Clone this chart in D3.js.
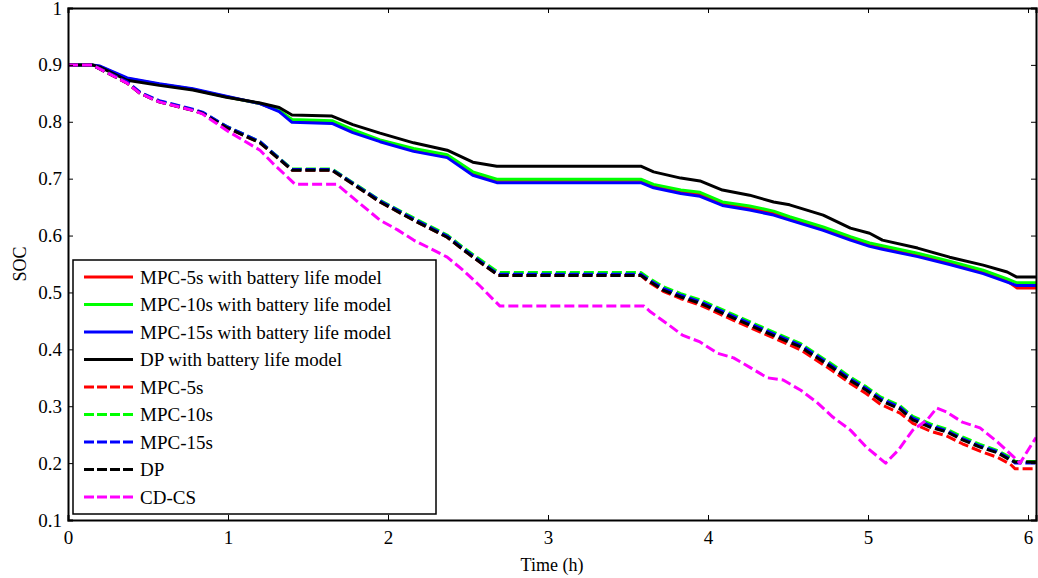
<!DOCTYPE html>
<html>
<head>
<meta charset="utf-8">
<script src="https://cdn.jsdelivr.net/npm/d3@7"></script>
<style>
  html, body { margin: 0; padding: 0; background: #fff; }
  svg { display: block; }
  text { font-family: "Liberation Serif", "Times New Roman", serif; fill: #000; }
</style>
</head>
<body>
<svg id="chart" width="1038" height="578"></svg>
<script>
// ---------------- data ----------------
const xTicks = [0, 1, 2, 3, 4, 5, 6];
const yTicks = [0.1, 0.2, 0.3, 0.4, 0.5, 0.6, 0.7, 0.8, 0.9, 1];
const yTickLabels = ["0.1", "0.2", "0.3", "0.4", "0.5", "0.6", "0.7", "0.8", "0.9", "1"];

// solid group (with battery life model)
const tLife = [0,0.15,0.2,0.37,0.57,0.78,0.99,1.2,1.32,1.4,1.65,1.78,1.95,2.16,2.37,2.53,2.68,3.58,3.66,3.83,3.95,4.09,4.26,4.41,4.51,4.72,4.89,5.01,5.09,5.31,5.51,5.72,5.87,5.93,6.05];
const mpc5Life  = [0.9,0.9,0.897,0.876,0.866,0.857,0.844,0.832,0.819,0.802,0.8,0.784,0.767,0.751,0.74,0.709,0.697,0.697,0.687,0.677,0.672,0.656,0.648,0.639,0.63,0.612,0.595,0.584,0.579,0.566,0.552,0.536,0.52,0.508,0.508];
const mpc10Life = [0.9,0.9,0.897,0.875,0.866,0.857,0.844,0.832,0.82,0.804,0.802,0.786,0.768,0.753,0.742,0.712,0.699,0.699,0.69,0.68,0.676,0.659,0.652,0.643,0.633,0.615,0.598,0.587,0.582,0.569,0.555,0.539,0.524,0.517,0.517];
const mpc15Life = [0.9,0.9,0.898,0.877,0.867,0.858,0.845,0.832,0.818,0.799,0.797,0.781,0.765,0.748,0.737,0.706,0.693,0.693,0.684,0.674,0.669,0.653,0.645,0.636,0.627,0.609,0.592,0.581,0.576,0.563,0.549,0.533,0.518,0.512,0.512];
const dpLife    = [0.9,0.9,0.896,0.873,0.864,0.856,0.843,0.833,0.825,0.812,0.81,0.795,0.78,0.763,0.75,0.729,0.722,0.722,0.712,0.701,0.696,0.68,0.671,0.659,0.654,0.636,0.613,0.604,0.592,0.578,0.562,0.548,0.536,0.527,0.527];

// dashed group (without battery life model)
const tBase = [0,0.15,0.37,0.45,0.57,0.78,0.84,0.99,1.2,1.4,1.65,1.95,2.16,2.37,2.47,2.58,2.69,3.58,3.62,3.72,3.83,3.95,4.16,4.37,4.58,4.78,4.89,4.99,5.08,5.2,5.28,5.39,5.49,5.59,5.7,5.81,5.89,5.92,6.05];
const mpc5  = [0.9,0.9,0.868,0.85,0.835,0.82,0.815,0.79,0.763,0.715,0.715,0.659,0.627,0.597,0.575,0.552,0.53,0.53,0.52,0.502,0.489,0.478,0.451,0.425,0.399,0.362,0.34,0.322,0.303,0.288,0.27,0.256,0.248,0.234,0.221,0.21,0.198,0.19,0.19];
const mpc10 = [0.9,0.9,0.869,0.851,0.836,0.821,0.816,0.792,0.765,0.717,0.717,0.662,0.631,0.601,0.579,0.557,0.535,0.535,0.527,0.51,0.498,0.487,0.461,0.435,0.41,0.373,0.351,0.334,0.316,0.301,0.282,0.269,0.26,0.246,0.233,0.222,0.21,0.203,0.203];
const mpc15 = [0.9,0.9,0.87,0.852,0.837,0.822,0.817,0.792,0.765,0.716,0.716,0.661,0.629,0.599,0.577,0.554,0.532,0.532,0.524,0.507,0.495,0.484,0.458,0.432,0.407,0.37,0.348,0.331,0.313,0.298,0.279,0.266,0.257,0.243,0.23,0.22,0.207,0.2,0.2];
const dp    = [0.9,0.9,0.868,0.85,0.835,0.82,0.815,0.79,0.763,0.715,0.715,0.659,0.627,0.597,0.575,0.552,0.53,0.53,0.522,0.504,0.492,0.481,0.455,0.429,0.404,0.367,0.345,0.328,0.31,0.295,0.276,0.263,0.255,0.241,0.228,0.218,0.205,0.202,0.202];

// CD-CS
const tCDCS = [0,0.15,0.37,0.45,0.57,0.78,0.84,0.99,1.2,1.28,1.39,1.42,1.68,1.95,2.06,2.16,2.26,2.37,2.47,2.58,2.66,2.7,3.6,3.64,3.74,3.84,3.95,4.06,4.16,4.27,4.37,4.47,4.58,4.68,4.78,4.89,4.99,5.11,5.19,5.28,5.37,5.43,5.49,5.59,5.7,5.81,5.91,5.95,6.05];
const cdcs  = [0.9,0.9,0.868,0.85,0.835,0.82,0.814,0.785,0.75,0.727,0.698,0.69,0.69,0.627,0.61,0.592,0.578,0.562,0.539,0.51,0.487,0.476,0.476,0.466,0.446,0.425,0.413,0.393,0.385,0.367,0.35,0.346,0.328,0.307,0.281,0.258,0.228,0.2,0.223,0.258,0.276,0.297,0.29,0.272,0.262,0.237,0.211,0.2,0.245];

const seriesNames = ["MPC-5s with battery life model","MPC-10s with battery life model","MPC-15s with battery life model","DP with battery life model","MPC-5s","MPC-10s","MPC-15s","DP","CD-CS"];
const seriesColors = ["#ff0000","#00ff00","#0000ff","#000000","#ff0000","#00ff00","#0000ff","#000000","#ff00ff"];
const seriesDashed = [false,false,false,false,true,true,true,true,true];
const seriesT = [tLife,tLife,tLife,tLife,tBase,tBase,tBase,tBase,tCDCS];
const seriesV = [mpc5Life,mpc10Life,mpc15Life,dpLife,mpc5,mpc10,mpc15,dp,cdcs];

// ---------------- layout ----------------
const L = 68, R = 1036, T = 8, B = 520;
const svg = d3.select("#chart");
const x = d3.scaleLinear().domain([0, 6.05]).range([L, R]);
const y = d3.scaleLinear().domain([0.1, 1]).range([B, T]);

svg.append("defs").append("clipPath").attr("id","clip")
  .append("rect").attr("x",L).attr("y",T).attr("width",R-L).attr("height",B-T);

const line = d3.line().x(d => x(d[0])).y(d => y(d[1]));
const gLines = svg.append("g").attr("clip-path","url(#clip)");
seriesNames.forEach((name, i) => {
  const pts = seriesT[i].map((t, k) => [t, seriesV[i][k]]);
  gLines.append("path")
    .datum(pts)
    .attr("d", line)
    .attr("fill","none")
    .attr("stroke", seriesColors[i])
    .attr("stroke-width", 3)
    .attr("stroke-linejoin","round")
    .attr("stroke-dasharray", seriesDashed[i] ? "10,4" : null);
});

// ---------------- axes ----------------
const fmtY = d => yTickLabels[yTicks.indexOf(d)];
const axB = svg.append("g").attr("transform",`translate(0,${B})`)
  .call(d3.axisBottom(x).tickValues(xTicks).tickSize(-5).tickPadding(11).tickFormat(d3.format("d")));
const axT = svg.append("g").attr("transform",`translate(0,${T})`)
  .call(d3.axisTop(x).tickValues(xTicks).tickSize(-5).tickFormat(""));
const axL = svg.append("g").attr("transform",`translate(${L},0)`)
  .call(d3.axisLeft(y).tickValues(yTicks).tickSize(-5).tickPadding(6).tickFormat(fmtY));
const axR = svg.append("g").attr("transform",`translate(${R},0)`)
  .call(d3.axisRight(y).tickValues(yTicks).tickSize(-5).tickFormat(""));
[axB, axT, axL, axR].forEach(g => {
  g.select(".domain").attr("stroke","#000").attr("stroke-width",2);
  g.selectAll(".tick line").attr("stroke","#000").attr("stroke-width",1);
  g.selectAll(".tick text").attr("font-size",19).attr("font-family","'Liberation Serif', serif").attr("fill","#000");
});

svg.append("text").attr("x",(L+R)/2).attr("y",571).attr("text-anchor","middle")
  .attr("font-size",18).text("Time (h)");
svg.append("text").attr("transform",`translate(26,${(T+B)/2}) rotate(-90)`).attr("text-anchor","middle")
  .attr("font-size",18).text("SOC");

// ---------------- legend ----------------
const lg = svg.append("g");
lg.append("rect").attr("x",73).attr("y",260).attr("width",363).attr("height",254)
  .attr("fill","#fff").attr("stroke","#000").attr("stroke-width",1.5);
seriesNames.forEach((name, i) => {
  const yy = 277 + i * 27.5;
  lg.append("line").attr("x1",84).attr("x2",133).attr("y1",yy).attr("y2",yy)
    .attr("stroke",seriesColors[i]).attr("stroke-width",3)
    .attr("stroke-dasharray", seriesDashed[i] ? "10,3" : null);
  lg.append("text").attr("x",140).attr("y",yy).attr("dy","0.35em")
    .attr("font-size",19).text(name);
});
</script>
</body>
</html>
